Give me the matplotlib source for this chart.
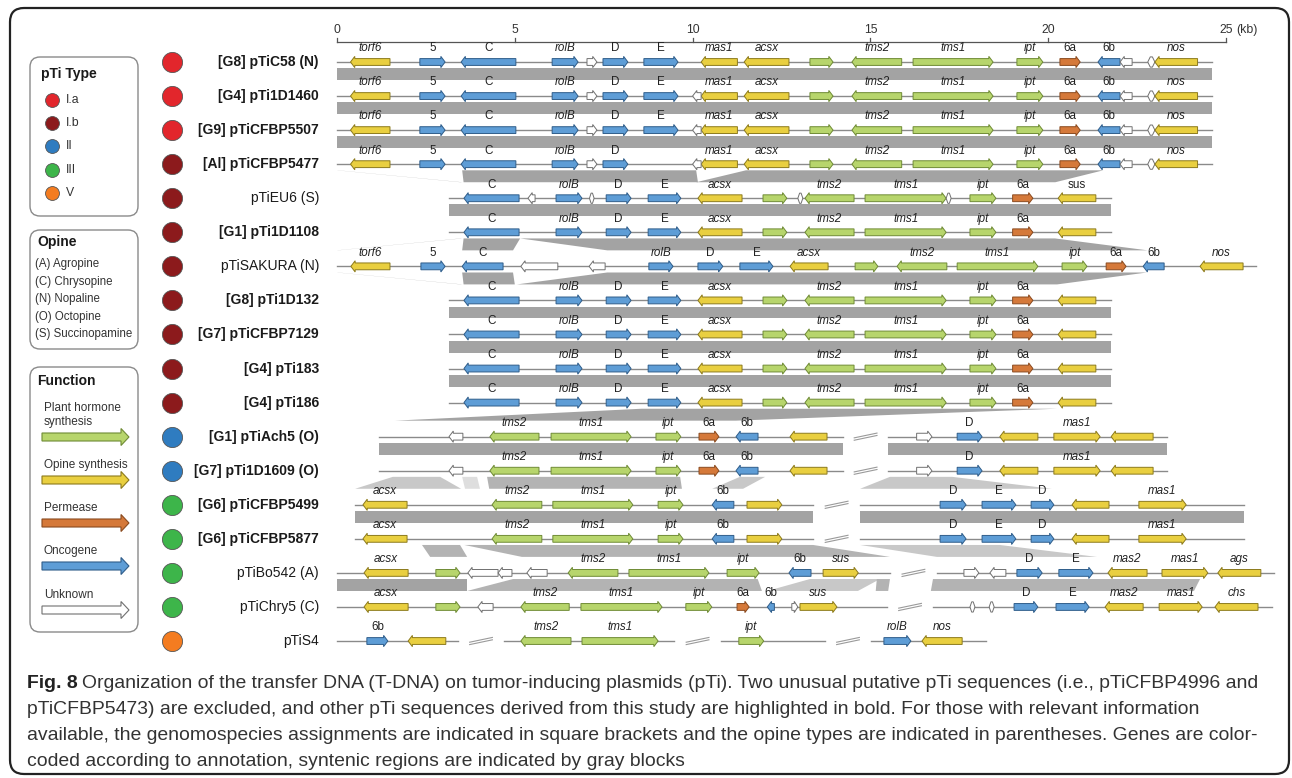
import matplotlib
matplotlib.use("Agg")
import matplotlib.pyplot as plt
from matplotlib.patches import Polygon, FancyBboxPatch

plt.rcParams['font.family'] = ['Liberation Sans', 'DejaVu Sans']

W, H = 1292, 778
PX_KB = 35.56      # pixels per kb on the map
X_ZERO = 337       # pixel column of 0 kb
ROW_PX = 34.06     # pixels between plasmid rows
ROW0 = 62          # pixel row of the first plasmid line

# ---------------- data ----------------
plasmids = ["[G8] pTiC58 (N)", "[G4] pTi1D1460", "[G9] pTiCFBP5507", "[Al] pTiCFBP5477",
            "pTiEU6 (S)", "[G1] pTi1D1108", "pTiSAKURA (N)", "[G8] pTi1D132",
            "[G7] pTiCFBP7129", "[G4] pTi183", "[G4] pTi186", "[G1] pTiAch5 (O)",
            "[G7] pTi1D1609 (O)", "[G6] pTiCFBP5499", "[G6] pTiCFBP5877", "pTiBo542 (A)",
            "pTiChry5 (C)", "pTiS4"]
bold_name = [True, True, True, True, False, True, False, True, True, True, True,
             True, True, True, True, False, False, False]
pti_type = ["I.a", "I.a", "I.a", "I.b", "I.b", "I.b", "I.b", "I.b", "I.b", "I.b", "I.b",
            "II", "II", "III", "III", "III", "III", "V"]

type_names = ["I.a", "I.b", "II", "III", "V"]
type_colors = ["#e2262c", "#8c1a1c", "#2f7cc0", "#3db54a", "#f47c20"]

opines = ["(A) Agropine", "(C) Chrysopine", "(N) Nopaline", "(O) Octopine", "(S) Succinopamine"]

func_names = ["Plant hormone\nsynthesis", "Opine synthesis", "Permease", "Oncogene", "Unknown"]
func_kinds = ["h", "o", "p", "n", "u"]

# genes: (start kb, end kb, strand, kind, label)
c58 = [(0.38, 1.49, -1, 'o', 'torf6'), (2.33, 3.04, 1, 'n', '5'), (3.49, 5.03, -1, 'n', 'C'),
       (6.05, 6.78, 1, 'n', 'rolB'), (7.03, 7.31, 1, 'u', ''), (7.48, 8.18, 1, 'n', 'D'),
       (8.63, 9.59, 1, 'n', 'E'), (10.24, 11.26, -1, 'o', 'mas1'), (11.45, 12.71, -1, 'o', 'acsx'),
       (13.30, 13.95, 1, 'h', ''), (14.48, 15.88, -1, 'h', 'tms2'), (16.20, 18.45, 1, 'h', 'tms1'),
       (19.12, 19.85, 1, 'h', 'ipt'), (20.33, 20.90, 1, 'p', '6a'), (21.40, 22.02, -1, 'n', '6b'),
       (22.02, 22.36, -1, 'u', ''), (22.80, 23.00, 0, 'u', ''), (23.00, 24.20, -1, 'o', 'nos')]
pti1d1460 = c58 + [(10.00, 10.24, -1, 'u', '')]
cfbp5507 = list(pti1d1460)
cfbp5477 = [g for g in pti1d1460 if g[4] != 'E']

ib_core = [(3.57, 5.12, -1, 'n', 'C'), (6.16, 6.89, 1, 'n', 'rolB'), (7.57, 8.27, 1, 'n', 'D'),
           (8.75, 9.67, 1, 'n', 'E'), (10.15, 11.39, -1, 'o', 'acsx'), (11.98, 12.65, 1, 'h', ''),
           (13.16, 14.54, -1, 'h', 'tms2'), (14.85, 17.13, 1, 'h', 'tms1'),
           (17.80, 18.53, 1, 'h', 'ipt'), (19.00, 19.57, 1, 'p', '6a'), (20.28, 21.34, -1, 'o', '')]
eu6 = ib_core[:-1] + [(20.28, 21.34, -1, 'o', 'sus'), (5.37, 5.57, -1, 'u', ''),
                      (7.10, 7.23, 0, 'u', ''), (12.96, 13.10, 0, 'u', ''),
                      (17.13, 17.27, 0, 'u', '')]

sakura = [(0.39, 1.49, -1, 'o', 'torf6'), (2.36, 3.04, 1, 'n', '5'), (3.52, 4.67, -1, 'n', 'C'),
          (5.17, 6.21, -1, 'u', ''), (7.09, 7.54, -1, 'u', ''), (8.77, 9.45, 1, 'n', 'rolB'),
          (10.15, 10.85, 1, 'n', 'D'), (11.33, 12.26, 1, 'n', 'E'), (12.74, 13.81, -1, 'o', 'acsx'),
          (14.57, 15.21, 1, 'h', ''), (15.75, 17.15, -1, 'h', 'tms2'), (17.44, 19.71, 1, 'h', 'tms1'),
          (20.39, 21.09, 1, 'h', 'ipt'), (21.63, 22.19, 1, 'p', '6a'), (22.67, 23.26, -1, 'n', '6b'),
          (24.27, 25.48, -1, 'o', 'nos')]

ach5 = [(3.15, 3.54, -1, 'u', ''), (4.30, 5.68, -1, 'h', 'tms2'), (6.02, 8.27, 1, 'h', 'tms1'),
        (8.97, 9.67, 1, 'h', 'ipt'), (10.18, 10.74, 1, 'p', '6a'), (11.22, 11.84, -1, 'n', '6b'),
        (12.74, 13.78, -1, 'o', ''), (16.30, 16.73, 1, 'u', ''), (17.44, 18.14, 1, 'n', 'D'),
        (18.64, 19.71, -1, 'o', ''), (20.16, 21.46, 1, 'o', 'mas1'), (21.77, 22.95, -1, 'o', '')]

cfbp5499 = [(0.73, 1.97, -1, 'o', 'acsx'), (4.36, 5.76, -1, 'h', 'tms2'), (6.07, 8.32, 1, 'h', 'tms1'),
            (9.03, 9.73, 1, 'h', 'ipt'), (10.55, 11.16, -1, 'n', '6b'), (11.53, 12.51, 1, 'o', ''),
            (16.96, 17.69, 1, 'n', 'D'), (18.14, 19.09, 1, 'n', 'E'), (19.52, 20.16, 1, 'n', 'D'),
            (20.67, 21.71, -1, 'o', ''), (22.55, 23.88, 1, 'o', 'mas1')]

bo542 = [(0.76, 2.00, -1, 'o', 'acsx'), (2.78, 3.46, 1, 'h', ''), (3.68, 4.53, -1, 'u', ''),
         (4.53, 4.92, -1, 'u', ''), (5.34, 5.91, -1, 'u', ''), (6.50, 7.90, -1, 'h', 'tms2'),
         (8.21, 10.46, 1, 'h', 'tms1'), (10.97, 11.87, 1, 'h', 'ipt'), (12.71, 13.33, -1, 'n', '6b'),
         (13.67, 14.66, 1, 'o', 'sus'), (17.63, 18.05, 1, 'u', ''), (18.36, 18.81, -1, 'u', ''),
         (19.12, 19.83, 1, 'n', 'D'), (20.30, 21.26, 1, 'n', 'E'), (21.68, 22.78, -1, 'o', 'mas2'),
         (23.20, 24.49, 1, 'o', 'mas1'), (24.77, 25.98, -1, 'o', 'ags')]

chry5 = [(0.76, 2.00, -1, 'o', 'acsx'), (2.78, 3.46, 1, 'h', ''), (3.96, 4.39, -1, 'u', ''),
         (5.17, 6.53, -1, 'h', 'tms2'), (6.86, 9.14, 1, 'h', 'tms1'), (9.81, 10.54, 1, 'h', 'ipt'),
         (11.25, 11.59, 1, 'p', '6a'), (12.10, 12.30, -1, 'n', '6b'), (12.79, 12.96, 1, 'u', ''),
         (13.02, 14.06, 1, 'o', 'sus'), (17.80, 17.94, 0, 'u', ''), (18.34, 18.48, 0, 'u', ''),
         (19.04, 19.71, 1, 'n', 'D'), (20.22, 21.15, 1, 'n', 'E'), (21.60, 22.67, -1, 'o', 'mas2'),
         (23.12, 24.33, 1, 'o', 'mas1'), (24.69, 25.90, -1, 'o', 'chs')]

s4 = [(0.84, 1.43, 1, 'n', '6b'), (2.00, 3.06, -1, 'o', ''), (5.17, 6.58, -1, 'h', 'tms2'),
      (6.89, 9.03, 1, 'h', 'tms1'), (11.30, 12.00, 1, 'h', 'ipt'), (15.38, 16.14, 1, 'n', 'rolB'),
      (16.45, 17.58, -1, 'o', 'nos')]

row_genes = [c58, pti1d1460, cfbp5507, cfbp5477, eu6, ib_core, sakura, ib_core, ib_core,
             ib_core, ib_core, ach5, ach5, cfbp5499, cfbp5499, bo542, chry5, s4]

seg_c58 = [(0, 24.6)]
seg_ib = [(3.15, 21.77)]
seg_ach5 = [(1.18, 14.23), (15.5, 23.34)]
seg_5499 = [(0.5, 13.39), (14.71, 25.5)]
row_segments = [seg_c58, seg_c58, seg_c58, seg_c58, seg_ib, seg_ib, [(0, 25.85)], seg_ib,
                seg_ib, seg_ib, seg_ib, seg_ach5, seg_ach5, seg_5499, seg_5499,
                [(0, 15.55), (16.87, 26.35)], [(0, 15.47), (16.76, 26.29)],
                [(0, 3.4), (4.7, 9.48), (10.8, 13.72), (15.02, 18.25)]]

# syntenic blocks: (upper row, upper start, upper end, lower start, lower end, shade)
blocks = [
    (0, 0, 24.6, 0, 24.6, 'dark'), (1, 0, 24.6, 0, 24.6, 'dark'), (2, 0, 24.6, 0, 24.6, 'dark'),
    (3, 0.0, 0.03, 3.47, 3.52, 'dark'), (3, 3.52, 10.10, 3.56, 10.15, 'dark'),
    (3, 11.5, 21.55, 10.1, 20.2, 'dark'),
    (4, 3.15, 21.77, 3.15, 21.77, 'dark'),
    (5, 3.47, 3.52, 0.0, 0.03, 'dark'), (5, 3.56, 5.15, 3.52, 4.95, 'dark'),
    (5, 5.15, 20.19, 7.6, 22.8, 'dark'),
    (6, 0.0, 0.03, 3.47, 3.52, 'dark'), (6, 3.52, 4.95, 3.56, 5.0, 'dark'),
    (6, 7.6, 22.78, 5.06, 20.25, 'dark'),
    (7, 3.15, 21.77, 3.15, 21.77, 'dark'), (8, 3.15, 21.77, 3.15, 21.77, 'dark'),
    (9, 3.15, 21.77, 3.15, 21.77, 'dark'),
    (10, 8.57, 20.25, 1.63, 11.22, 'dark'),
    (11, 1.18, 14.23, 1.18, 14.23, 'dark'), (11, 15.5, 23.34, 15.5, 23.34, 'dark'),
    (12, 1.57, 2.9, 0.51, 3.49, 'light'), (12, 3.52, 3.94, 3.6, 4.02, 'pale'),
    (12, 4.22, 9.65, 4.28, 9.7, 'mid'), (12, 11.33, 12.04, 10.55, 11.42, 'light'),
    (12, 15.55, 17.3, 14.71, 20.1, 'light'),
    (13, 0.5, 13.39, 0.5, 13.39, 'dark'), (13, 14.71, 25.5, 14.71, 25.5, 'dark'),
    (14, 2.39, 3.46, 2.62, 3.66, 'mid'), (14, 3.58, 13.39, 5.2, 15.55, 'mid'),
    (14, 14.71, 18.64, 16.87, 21.37, 'light'),
    (15, 0, 3.66, 0, 3.66, 'dark'), (15, 4.95, 11.83, 3.66, 11.95, 'mid'),
    (15, 13.3, 15.27, 12.1, 14.65, 'light'), (15, 15.18, 15.55, 15.15, 15.5, 'mid'),
    (15, 16.76, 24.27, 16.7, 24.1, 'mid'),
]

scale_ticks = [0, 5, 10, 15, 20, 25]

caption_lines = [
    "Organization of the transfer DNA (T-DNA) on tumor-inducing plasmids (pTi). Two unusual putative pTi sequences (i.e., pTiCFBP4996 and",
    "pTiCFBP5473) are excluded, and other pTi sequences derived from this study are highlighted in bold. For those with relevant information",
    "available, the genomospecies assignments are indicated in square brackets and the opine types are indicated in parentheses. Genes are color-",
    "coded according to annotation, syntenic regions are indicated by gray blocks",
]

# ---------------- styles ----------------
FILL = {'h': '#b7d56c', 'o': '#e9cf40', 'p': '#d5793a', 'n': '#5e9dd6', 'u': '#ffffff'}
EDGE = {'h': '#6f8b35', 'o': '#8c7a1c', 'p': '#8a4a1f', 'n': '#2f5d8a', 'u': '#707070'}
SHADE = {'dark': '#a3a3a3', 'mid': '#b3b3b3', 'light': '#c8c8c8', 'pale': '#dedede'}
UPRIGHT = {'5', 'C', 'D', 'E', '6a', '6b'}


def gene_shape(s, e, strand, y, body=0.1, head=0.165, hl=0.12):
    hl = min(hl, (e - s) * 0.6)
    if strand > 0:
        return [(s, y - body), (e - hl, y - body), (e - hl, y - head), (e, y),
                (e - hl, y + head), (e - hl, y + body), (s, y + body)]
    if strand < 0:
        return [(e, y - body), (s + hl, y - body), (s + hl, y - head), (s, y),
                (s + hl, y + head), (s + hl, y + body), (e, y + body)]
    h = (e - s) * 0.35
    return [(s, y), (s + h, y - 0.15), (e - h, y - 0.15), (e, y), (e - h, y + 0.15),
            (s + h, y + 0.15)]


fig = plt.figure(figsize=(W / 100, H / 100), dpi=100)

# pixel axes for frame, legends and caption
axp = fig.add_axes([0, 0, 1, 1])
axp.set_xlim(0, W)
axp.set_ylim(H, 0)
axp.axis('off')

# map axes in kb / row units
ax = fig.add_axes([0, 0, 1, 1])
ax.set_xlim(-X_ZERO / PX_KB, (W - X_ZERO) / PX_KB)
ax.set_ylim((H - ROW0) / ROW_PX, -ROW0 / ROW_PX)
ax.axis('off')
ax.patch.set_alpha(0)

axp.add_patch(FancyBboxPatch((10, 8), 1279, 766, boxstyle='round,pad=0,rounding_size=14',
                             fc='white', ec='#222222', lw=1.6))

# scale bar
sy = -20 / ROW_PX
ax.plot([0, 25], [sy, sy], color='#555555', lw=0.9)
for t in scale_ticks:
    ax.plot([t, t], [sy, sy - 0.12], color='#555555', lw=0.9)
    ax.text(t, sy - 0.35, str(t), ha='center', va='center', fontsize=8.8, color='#333333')
ax.text(25.3, sy - 0.35, "(kb)", ha='left', va='center', fontsize=8.8, color='#333333')

# syntenic blocks
for r, t0, t1, b0, b1, shade in blocks:
    yt, yb = r + 0.18, r + 0.53
    ax.add_patch(Polygon([(t0, yt), (t1, yt), (b1, yb), (b0, yb)], closed=True,
                         fc=SHADE[shade], ec='none', zorder=1))

# rows
for r, (name, segs, genes) in enumerate(zip(plasmids, row_segments, row_genes)):
    for s, e in segs:
        ax.plot([s, e], [r, r], color='#8a8a8a', lw=1.0, zorder=2)
    for (s0, e0), (s1, e1) in zip(segs[:-1], segs[1:]):
        mid = (e0 + s1) / 2
        for dy in (-0.035, 0.035):
            ax.plot([mid - 0.32, mid + 0.32], [r + 0.07 + dy, r - 0.07 + dy],
                    color='#9a9a9a', lw=0.8, zorder=2)
    for s, e, strand, kind, label in genes:
        ax.add_patch(Polygon(gene_shape(s, e, strand, r), closed=True, fc=FILL[kind],
                             ec=EDGE[kind], lw=0.7, zorder=3))
        if label:
            upright = label in UPRIGHT or (r == 4 and label == 'sus')
            ax.text((s + e) / 2, r - 0.4, label, ha='center', va='center', fontsize=8.4,
                    style='normal' if upright else 'italic', color='#222222')
    ax.scatter([-165 / PX_KB], [r], s=210, color=type_colors[type_names.index(pti_type[r])],
               edgecolors='#555555', linewidths=0.6, zorder=4)
    ax.text(-18 / PX_KB, r, name, ha='right', va='center', fontsize=10,
            fontweight='bold' if bold_name[r] else 'normal', color='#1a1a1a')

# legend boxes
box_kw = dict(boxstyle='round,pad=0,rounding_size=10', fc='white', ec='#8a8a8a', lw=1.0)
axp.add_patch(FancyBboxPatch((30, 57), 108, 159, **box_kw))
axp.add_patch(FancyBboxPatch((30, 230), 108, 119, **box_kw))
axp.add_patch(FancyBboxPatch((30, 367), 108, 265, **box_kw))

axp.text(41, 74, "pTi Type", fontsize=10, fontweight='bold', va='center', color='#1a1a1a')
for i, (tn, tc) in enumerate(zip(type_names, type_colors)):
    yy = 100 + i * 23.2
    axp.scatter([52], [yy], s=100, color=tc, edgecolors='#555555', linewidths=0.6)
    axp.text(66, yy, tn, fontsize=8.8, va='center', color='#333333')

axp.text(37, 242, "Opine", fontsize=10, fontweight='bold', va='center', color='#1a1a1a')
for i, op in enumerate(opines):
    axp.text(35, 264 + i * 17.5, op, fontsize=8.3, va='center', color='#333333')

axp.text(37, 381, "Function", fontsize=10, fontweight='bold', va='center', color='#1a1a1a')
label_y = [415, 465, 508, 551, 595]
arrow_y = [437, 480, 523, 566, 610]
for fn, kind, ly, ay in zip(func_names, func_kinds, label_y, arrow_y):
    axp.text(44, ly, fn, fontsize=8.5, va='center', color='#333333', linespacing=1.3)
    pts = [(42, ay - 4), (121, ay - 4), (121, ay - 8.5), (129, ay), (121, ay + 8.5),
           (121, ay + 4), (42, ay + 4)]
    axp.add_patch(Polygon(pts, closed=True, fc=FILL[kind], ec=EDGE[kind], lw=0.8))

# caption, sized to the reference line width
fig.canvas.draw()
rend = fig.canvas.get_renderer()
probe = axp.text(0, 0, caption_lines[2], fontsize=12)
wid = probe.get_window_extent(rend).width
probe.remove()
fs = 12 * 1231 / wid
cap_y = [683, 710, 736, 762]
fig8 = axp.text(27, cap_y[0], "Fig. 8", fontsize=fs, fontweight='bold', va='center',
                color='#222222')
wb = fig8.get_window_extent(rend).width
axp.text(27 + wb + fs * 0.3, cap_y[0], caption_lines[0], fontsize=fs, va='center',
         color='#333333')
for line, yy in zip(caption_lines[1:], cap_y[1:]):
    axp.text(27, yy, line, fontsize=fs, va='center', color='#333333')

fig.savefig("out.png", dpi=100)
